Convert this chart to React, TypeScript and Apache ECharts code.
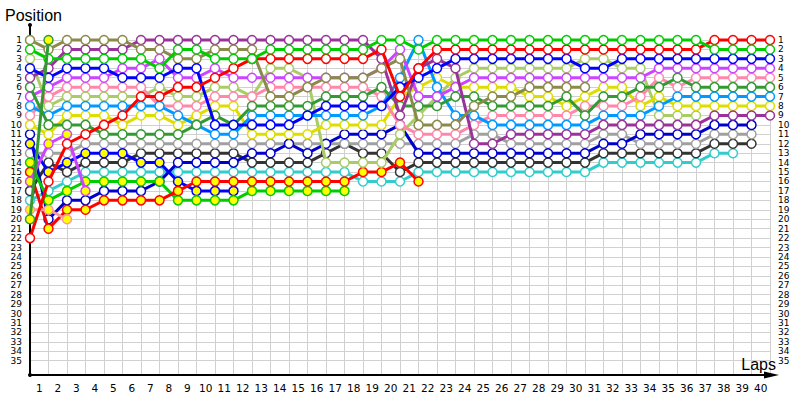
import React, { useEffect, useRef } from "react";
import * as echarts from "echarts";

// Lap tick labels (x) — lap 0 is the grid (start) column on the axis
const lapLabels = ["1","2","3","4","5","6","7","8","9","10","11","12","13","14","15","16","17","18","19","20","21","22","23","24","25","26","27","28","29","30","31","32","33","34","35","36","37","38","39","40"];

// Positions per lap (index 0 = start)
const olive = [1,2,1,1,1,1,2,2,3,3,2,2,2,7,7,6,5,5,5,4,3,10,10,10,8,7,7,6,6,6,6];
const green = [2,3,3,3,3,3,3,4,2,2,3,3,3,2,2,2,2,2,2,1,1,2,1,1,1,1,1,1,1,1,1,1,1,1,1,1,1,2,2,2,2];
const red = [22,16,12,11,10,9,7,7,6,6,5,4,3,3,3,3,3,3,3,2,7,4,2,2,2,2,2,2,2,2,2,2,2,2,2,2,2,1,1,1,1];
const blue = [4,5,4,4,4,5,5,5,4,4,10,10,10,10,10,9,8,8,8,8,6,5,4,3,3,3,3,3,3,3,4,4,3,3,3,3,3,3,3,3,3];
const purple = [5,4,2,2,2,2,1,1,1,1,1,1,1,1,1,1,1,1,1,3,9,4,3,4,12,12,11,11,11,11,11,10,10,10,10,10,10,9,9,9,9];
const darkGreen = [6,10,10,10,11,11,11,11,11,10,9,10,8,8,8,8,7,7,7,6,8,8,8,7,7,8,8,8,8,7,9,7,7,6,6,5,6,6,6,6,6];
const violet = [7,6,5,5,5,4,4,3,5,5,4,5,5,5,5,5,5,5,5,4,2,7,7,6,5,5,5,5,5,5,5,5,5,5,4,4,4,4,4,4,4];
const lightBlue = [8,9,8,8,8,8,8,8,9,10,11,11,9,9,9,9,9,9,9,8,5,1,6,9,9,10,10,10,10,10,10,9,9,9,8,7,7,7,7,7,7];
const pink = [9,7,6,6,6,6,6,8,8,8,7,7,7,6,6,6,6,6,6,7,10,11,11,11,10,9,9,9,9,9,8,8,8,7,5,6,5,5,5,5,5];
const yellow = [10,11,9,9,9,10,9,9,10,9,8,8,11,11,11,11,10,10,10,10,7,6,5,6,6,6,6,7,7,8,7,6,6,8,7,8,8,8,8,8,8];
const lightGreen = [3,8,7,7,7,7,7,6,7,7,6,6,7,4,4,5,14,14,14,14,11,9,7,5,4,4,4,4,4,4,3,3,4,4,9,9,9];
const navy = [11,20,18,18,17,17,17,16,14,14,14,14,13,13,12,13,12,11,11,11,10,13,13,13,13,13,13,13,13,13,13,12,12,11,11,11,11,10,10,10];
const blueY = [12,15,14,13,13,13,14,14,16,17,17,17];
const grey = [13,13,13,12,12,12,12,12,12,12,12,12,12,12,12,12,12,12,12,12,12,12,12,12,11,11,12,12,12,12,12,11,11,12,12,12,12,11,11,11];
const greenY = [14,18,17,16,16,16,16,16,18,18,18,18,17,17,17,17,17,17];
const redY = [15,21,19,19,18,18,18,18,17,16,16,16,16,16,16,16,16,16,15,15,14,16];
const violetY = [16,12,11,17];
const black = [17,14,15,14,14,14,13,13,13,13,13,13,14,14,14,14,13,12,13,13,15,14,14,14,14,14,14,14,14,14,14,13,13,13,13,13,13,12,12,12];
const cyan = [18,17,16,15,15,15,15,15,15,15,15,15,15,15,15,15,15,15,16,16,16,15,15,15,15,15,15,15,15,15,15,14,14,14,14,14,14,13,13];
const pinkY = [19,19,20];
const darkGreenY = [20,1];

const YEL = "#ffff00";
const WHITE = "#ffffff";

const drivers = [
  { pos: cyan, color: "#33cccc", fill: WHITE },
  { pos: black, color: "#333333", fill: WHITE },
  { pos: grey, color: "#a0a0a0", fill: WHITE },
  { pos: navy, color: "#0000cc", fill: WHITE },
  { pos: blueY, color: "#0000ff", fill: YEL },
  { pos: greenY, color: "#00cc00", fill: YEL },
  { pos: redY, color: "#ff0000", fill: YEL },
  { pos: violetY, color: "#cc44ff", fill: YEL },
  { pos: pinkY, color: "#ff9999", fill: YEL },
  { pos: lightGreen, color: "#aacc66", fill: WHITE },
  { pos: yellow, color: "#dddd00", fill: WHITE },
  { pos: pink, color: "#ff88aa", fill: WHITE },
  { pos: lightBlue, color: "#0099ff", fill: WHITE },
  { pos: violet, color: "#cc44ff", fill: WHITE },
  { pos: darkGreen, color: "#339933", fill: WHITE },
  { pos: purple, color: "#993399", fill: WHITE },
  { pos: olive, color: "#8a8a4a", fill: WHITE },
  { pos: blue, color: "#0000ff", fill: WHITE },
  { pos: red, color: "#ff0000", fill: WHITE },
  { pos: green, color: "#00cc00", fill: WHITE },
  { pos: darkGreenY, color: "#339933", fill: YEL },
];

const FONT = "'DejaVu Sans', Tahoma, sans-serif";
const TITLE_FONT = "'Liberation Sans', Arial, sans-serif";

export default function App() {
  const ref = useRef<HTMLDivElement>(null);
  useEffect(() => {
    if (!ref.current) return;
    const chart = echarts.init(ref.current, undefined, { renderer: "svg" });
    const yLabel = { color: "#000", fontSize: 9, fontFamily: FONT, lineHeight: 9 };
    const series = drivers.map((d, k) => ({
      type: "line",
      xAxisIndex: 1,
      yAxisIndex: 1,
      data: d.pos.map((p, i) => [i, p]),
      symbol: "circle",
      symbolSize: 9,
      showAllSymbol: true,
      clip: false,
      silent: true,
      z: 3 + k * 0.01,
      lineStyle: { color: d.color, width: 3 },
      itemStyle: { color: d.fill, borderColor: d.color, borderWidth: 1.5 },
      emphasis: { disabled: true },
    }));
    chart.setOption({
      animation: false,
      grid: [
        { left: 30, right: 30, top: 40, bottom: 25, containLabel: false, outerBoundsMode: "none" },
        { left: 30, right: 30, top: 40, bottom: 39.3, containLabel: false, outerBoundsMode: "none" },
      ],
      xAxis: [
        {
          gridIndex: 0,
          type: "category",
          data: lapLabels,
          boundaryGap: true,
          axisLine: { show: false },
          axisTick: { show: false },
          axisLabel: { color: "#000", fontSize: 10.5, fontFamily: FONT, interval: 0, margin: 7 },
          splitLine: { show: true, interval: 0, lineStyle: { color: "#d0d0d0", width: 1 } },
        },
        { gridIndex: 1, type: "value", min: 0, max: 40, show: false },
      ],
      yAxis: [
        { gridIndex: 0, type: "value", min: 0, max: 1, show: false },
        {
          gridIndex: 1,
          type: "value",
          inverse: true,
          min: 1,
          max: 35,
          interval: 1,
          axisLine: { show: false },
          axisTick: { show: false },
          axisLabel: { ...yLabel, margin: 8, showMinLabel: true, showMaxLabel: true },
          splitLine: { show: true, lineStyle: { color: "#d0d0d0", width: 1 } },
        },
        {
          gridIndex: 1,
          type: "value",
          inverse: true,
          min: 1,
          max: 35,
          interval: 1,
          position: "right",
          axisLine: { show: false },
          axisTick: { show: false },
          axisLabel: { ...yLabel, margin: 8, showMinLabel: true, showMaxLabel: true },
          splitLine: { show: false },
        },
      ],
      series,
      graphic: [
        { type: "line", z: 1, shape: { x1: 30, y1: 25, x2: 30, y2: 375 }, style: { stroke: "#000", lineWidth: 2 } },
        { type: "line", z: 1, shape: { x1: 30, y1: 375, x2: 768, y2: 375 }, style: { stroke: "#000", lineWidth: 2 } },
        { type: "polygon", z: 1, shape: { points: [[764, 371.5], [779, 375], [764, 378.5]] }, style: { fill: "#000" } },
        { type: "circle", z: 1, shape: { cx: 30, cy: 25, r: 2 }, style: { fill: "#000" } },
        { type: "circle", z: 1, shape: { cx: 30, cy: 375, r: 2 }, style: { fill: "#000" } },
        { type: "text", z: 1, x: 5, y: 15, style: { text: "Position", fontSize: 16, fontFamily: TITLE_FONT, fill: "#000", verticalAlign: "middle" } },
        { type: "text", z: 1, x: 776, y: 364, style: { text: "Laps", fontSize: 16, fontFamily: TITLE_FONT, fill: "#000", align: "right", verticalAlign: "middle" } },
      ],
    });
    return () => chart.dispose();
  }, []);
  return (
    <div style={{ position: "fixed", left: 0, top: 0, width: 800, height: 400, background: "#fff" }}>
      <div ref={ref} style={{ width: 800, height: 400 }} />
    </div>
  );
}
